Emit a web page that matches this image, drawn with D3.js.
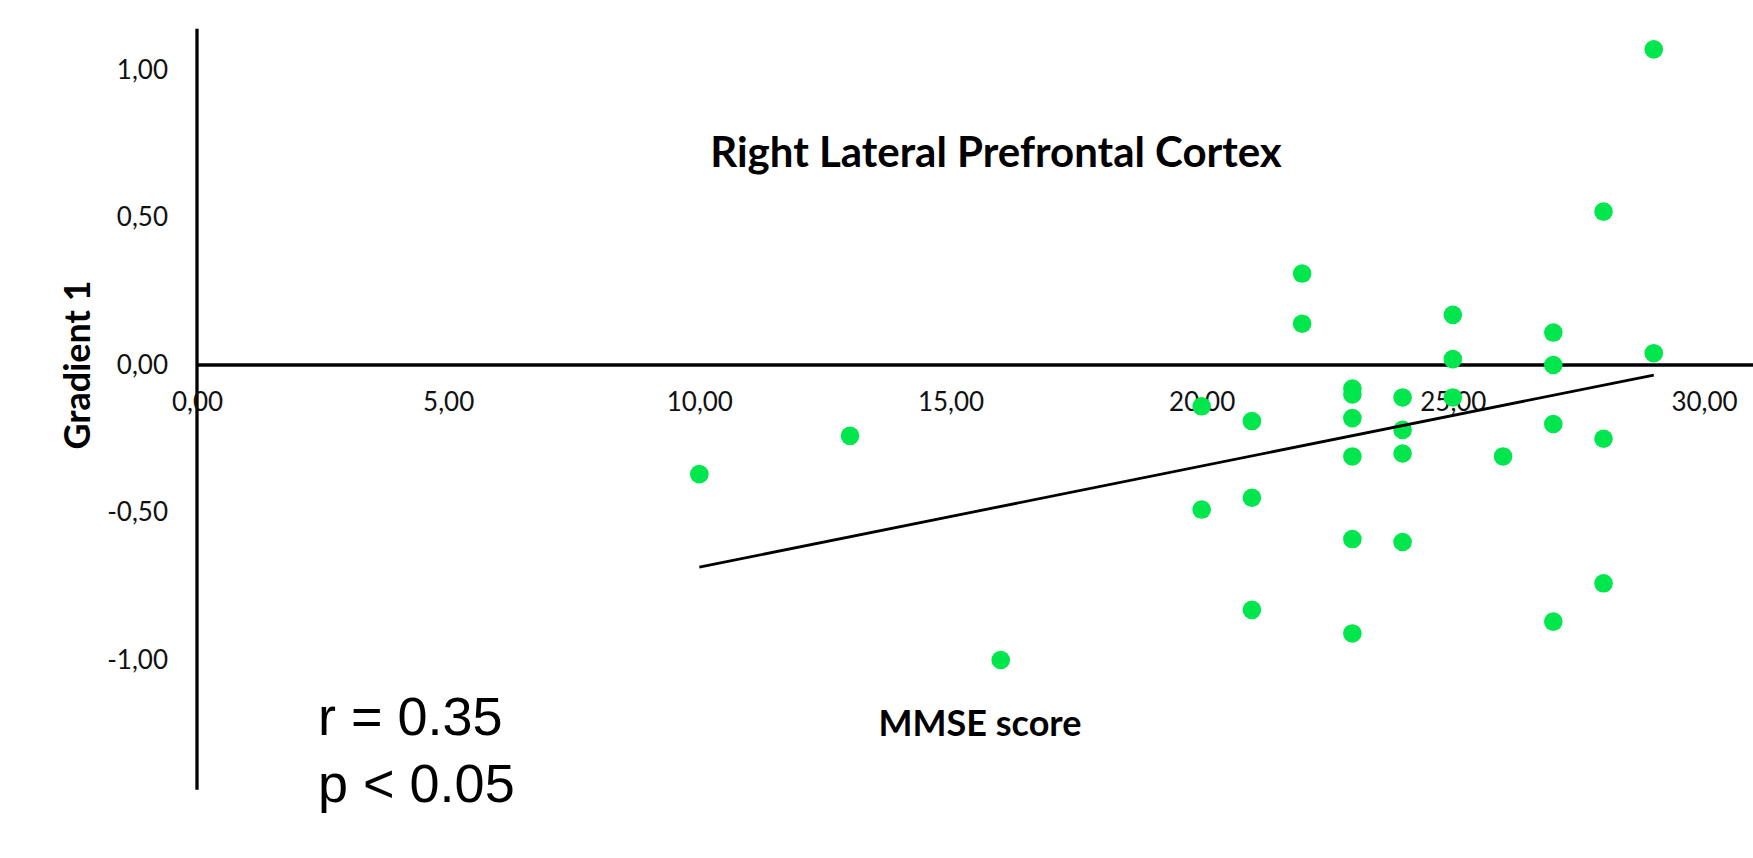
<!DOCTYPE html>
<html>
  <head>
    <script type="text/javascript" src="https://cdn.jsdelivr.net/npm/d3@7"></script>
    <style>
      body { margin: 0; background: #fff; }
    </style>
  </head>
  <body>
    <div id="viz"></div>
    <script type="text/javascript">
      // MMSE score vs Gradient 1
      const mmse = [29, 29, 28, 28, 28, 27, 27, 27, 27, 26, 25, 25, 25,
                    24, 24, 24, 24, 23, 23, 23, 23, 23, 23, 22, 22,
                    21, 21, 21, 20, 20, 16, 13, 10];
      const gradient = [1.07, 0.04, 0.52, -0.25, -0.74, 0.11, 0.00, -0.20, -0.87, -0.31, 0.17, 0.02, -0.11,
                        -0.11, -0.22, -0.30, -0.60, -0.08, -0.10, -0.18, -0.31, -0.59, -0.91, 0.31, 0.14,
                        -0.19, -0.45, -0.83, -0.14, -0.49, -1.00, -0.24, -0.37];

      // fit line end points
      const fitX = [10, 29];
      const fitY = [-0.685, -0.034];

      const xTicks = [0, 5, 10, 15, 20, 25, 30];
      const yTicks = [1, 0.5, 0, -0.5, -1];
      const xLineExtent = [0, 31];
      const yLineExtent = [-1.44, 1.14];

      const width = 1753;
      const height = 858;

      const svg = d3.select("#viz")
        .append("svg")
        .attr("width", width)
        .attr("height", height);

      const x = d3.scaleLinear().domain([0, 30]).range([197, 1704]);
      const y = d3.scaleLinear().domain([-1, 1]).range([660, 70]);

      const locale = d3.formatLocale({decimal: ",", thousands: ".", grouping: [3], currency: ["", ""], minus: "-"});
      const fmt = locale.format(".2f");

      const tickFont = "Lato, 'Open Sans', sans-serif";

      // zero line and y axis line
      svg.append("line")
        .attr("x1", x(xLineExtent[0])).attr("x2", x(xLineExtent[1]))
        .attr("y1", y(0)).attr("y2", y(0))
        .style("stroke", "black").style("stroke-width", 3.3);

      svg.append("line")
        .attr("x1", x(0)).attr("x2", x(0))
        .attr("y1", y(yLineExtent[1])).attr("y2", y(yLineExtent[0]))
        .style("stroke", "black").style("stroke-width", 3.3);

      const xAxis = svg.append("g")
        .attr("transform", "translate(0," + y(0) + ")")
        .call(d3.axisBottom(x).tickValues(xTicks).tickFormat(fmt).tickSize(0).tickPadding(28));
      xAxis.select(".domain").remove();

      const yAxis = svg.append("g")
        .attr("transform", "translate(" + x(0) + ",0)")
        .call(d3.axisLeft(y).tickValues(yTicks).tickFormat(fmt).tickSize(0).tickPadding(29));
      yAxis.select(".domain").remove();

      svg.selectAll(".tick text")
        .style("font-family", tickFont)
        .style("font-size", "26px")
        .style("fill", "#111");

      // dots
      const points = mmse.map((m, i) => ({m: m, g: gradient[i]}));
      svg.selectAll("circle.dot")
        .data(points)
        .enter()
        .append("circle")
        .attr("class", "dot")
        .attr("cx", d => x(d.m))
        .attr("cy", d => y(d.g))
        .attr("r", 9.3)
        .style("fill", "#00e64d");

      // regression line
      svg.append("line")
        .attr("x1", x(fitX[0])).attr("y1", y(fitY[0]))
        .attr("x2", x(fitX[1])).attr("y2", y(fitY[1]))
        .style("stroke", "black").style("stroke-width", 2.8);

      // labels
      svg.append("text")
        .attr("x", 996).attr("y", 167)
        .attr("text-anchor", "middle")
        .style("font-family", tickFont).style("font-weight", "bold").style("font-size", "42px")
        .text("Right Lateral Prefrontal Cortex");

      svg.append("text")
        .attr("x", 980).attr("y", 736)
        .attr("text-anchor", "middle")
        .style("font-family", tickFont).style("font-weight", "bold").style("font-size", "36px")
        .text("MMSE score");

      svg.append("text")
        .attr("transform", "translate(90,365) rotate(-90)")
        .attr("text-anchor", "middle")
        .style("font-family", tickFont).style("font-weight", "bold").style("font-size", "36px")
        .text("Gradient 1");

      const statFont = "'Liberation Sans', Arial, sans-serif";
      svg.append("text")
        .attr("x", 318).attr("y", 735)
        .style("font-family", statFont).style("font-size", "54px")
        .text("r = 0.35");
      svg.append("text")
        .attr("x", 318).attr("y", 802)
        .style("font-family", statFont).style("font-size", "54px")
        .text("p < 0.05");
    </script>
  </body>
</html>
